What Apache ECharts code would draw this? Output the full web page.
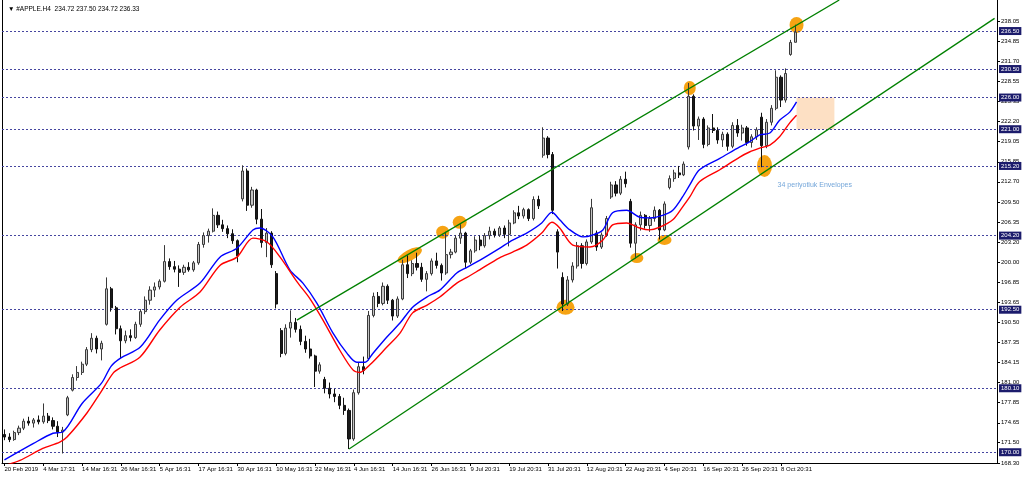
<!DOCTYPE html>
<html><head><meta charset="utf-8">
<script src="https://cdn.jsdelivr.net/npm/echarts@6/dist/echarts.min.js"></script>
<style>html,body{margin:0;padding:0;background:#fff}#c{width:1024px;height:477px}</style>
</head><body><div id="c"></div>
<script>
// ---- data ----
const tickLabels = ['20 Feb 2019','4 Mar 17:31','14 Mar 16:31','26 Mar 16:31','5 Apr 16:31','17 Apr 16:31','30 Apr 16:31','10 May 16:31','22 May 16:31','4 Jun 16:31','14 Jun 16:31','26 Jun 16:31','9 Jul 20:31','19 Jul 20:31','31 Jul 20:31','12 Aug 20:31','22 Aug 20:31','4 Sep 20:31','16 Sep 20:31','26 Sep 20:31','8 Oct 20:31'];
const barsPerLabel = 8;
const totalSlots = 205;
const opens = [
172.8,172.4,172.0,173.1,173.8,174.9,174.6,175.1,174.8,175.7,
175.0,174.1,173.2,175.9,179.8,181.8,182.6,183.9,186.2,188.0,
186.3,190.2,195.8,192.8,189.5,187.6,188.4,188.1,190.2,192.2,
194.0,195.6,196.1,197.0,200.1,199.3,198.9,198.4,199.2,198.8,
199.9,202.8,204.2,204.9,207.4,205.9,205.3,204.5,203.4,210.0,
214.4,209.0,211.4,206.8,203.1,204.6,198.2,189.2,185.6,189.6,
190.5,189.4,187.5,186.3,185.2,182.8,181.5,180.1,179.2,178.8,
177.4,176.6,172.1,179.4,183.5,184.8,191.6,194.6,193.5,196.2,
194.0,191.5,194.2,199.6,198.2,199.8,199.2,197.3,198.2,200.2,
199.5,198.3,201.2,201.6,203.8,204.6,200.0,201.8,203.5,202.6,
204.2,204.9,204.3,205.4,204.4,206.2,207.8,207.3,208.3,206.9,
209.9,216.9,219.6,217.0,204.8,197.6,193.4,197.2,199.4,202.6,
199.8,203.2,204.6,202.4,204.3,210.3,212.2,210.9,213.1,209.6,
203.0,205.9,207.4,205.8,206.9,208.2,205.1,211.8,213.2,214.1,
213.8,218.2,226.2,221.5,222.6,218.6,221.2,220.8,219.3,220.2,
218.3,221.6,220.4,221.2,218.9,219.8,222.9,218.4,222.1,224.3,
229.2,225.6,232.8,234.72];
const highs = [
173.6,173.0,173.4,174.2,175.3,175.6,175.4,175.8,177.7,176.2,
175.5,174.9,174.0,178.9,182.3,183.6,184.3,186.6,188.8,188.4,
187.6,197.6,196.1,193.1,190.0,189.2,189.4,190.6,192.6,194.6,
196.2,196.8,197.3,202.7,200.6,200.2,199.5,199.6,200.0,200.2,
203.2,204.7,205.3,208.5,208.0,206.7,205.8,205.2,203.6,215.3,
214.8,211.9,211.6,208.4,205.4,204.9,198.6,189.6,190.2,192.4,
191.2,190.0,188.4,187.9,185.4,184.2,181.9,181.0,180.0,179.2,
178.6,176.9,179.9,184.2,185.1,192.3,195.2,195.3,196.8,196.5,
194.2,194.6,200.4,201.1,200.3,201.5,199.9,198.6,200.6,201.5,
199.8,204.8,202.1,204.3,206.0,204.8,202.1,204.1,204.2,204.6,
205.6,205.3,205.7,205.8,206.7,208.2,208.9,208.6,208.5,210.4,
210.5,221.3,219.9,217.4,205.2,198.4,197.8,200.0,203.2,203.0,
203.6,210.0,205.0,204.7,207.3,212.7,212.8,213.6,214.3,210.0,
206.3,208.0,207.6,207.3,208.8,208.4,209.6,213.7,214.6,215.2,
215.9,228.3,226.5,223.0,222.9,221.6,223.4,221.3,220.6,220.5,
222.1,222.6,221.7,221.5,220.2,221.3,223.6,222.6,224.8,230.3,
229.5,230.6,235.1,237.50];
const lows = [
171.9,171.6,171.8,172.7,173.5,174.2,173.9,174.4,174.5,174.6,
173.6,172.4,169.8,175.7,179.6,181.3,182.2,183.6,185.8,185.6,
184.5,190.0,192.2,188.6,184.8,187.2,187.5,187.9,189.8,191.8,
193.3,194.5,195.7,196.8,198.8,198.4,196.1,198.0,198.5,198.5,
199.6,202.3,203.1,204.7,205.4,204.8,203.8,202.9,200.0,209.6,
208.1,208.6,206.0,202.3,200.8,199.1,192.7,185.0,185.3,188.1,
188.9,186.9,185.7,184.8,180.3,182.4,179.3,178.5,177.9,176.8,
175.9,170.5,171.8,179.1,182.3,184.5,191.3,192.9,193.2,193.4,
190.8,191.2,194.0,197.5,197.8,198.7,196.9,195.4,197.9,199.0,
197.1,198.0,200.6,201.4,202.9,199.1,199.7,201.5,201.9,202.3,
203.6,203.9,204.0,203.8,202.5,206.0,206.8,206.9,206.5,206.6,
208.4,216.5,216.4,207.6,199.0,192.3,193.1,196.8,199.0,199.0,
199.5,202.9,201.8,202.1,204.0,210.0,210.4,210.6,211.8,202.3,
200.6,205.0,205.3,204.8,206.4,203.6,204.9,211.5,212.7,213.3,
213.6,217.8,220.8,219.3,218.0,218.3,220.4,218.7,218.2,217.6,
218.0,219.8,219.2,218.4,218.1,219.3,215.0,218.0,221.6,224.0,
224.5,225.2,232.6,234.72];
const closes = [
172.4,172.0,173.1,173.8,174.9,174.6,175.1,174.8,175.7,175.0,
174.1,173.2,173.5,178.6,181.8,182.6,183.9,186.2,188.0,186.3,
187.2,195.8,192.8,189.5,187.6,188.4,188.1,190.2,192.2,194.0,
195.6,196.1,197.0,200.1,199.3,198.9,198.4,199.2,198.8,199.9,
202.8,204.2,204.9,207.4,205.9,205.3,204.5,203.4,201.0,214.4,
209.0,211.4,206.8,203.1,204.6,199.6,193.4,185.6,189.6,190.5,
189.4,187.5,186.3,185.2,182.8,183.8,180.1,179.2,178.8,177.4,
176.6,172.1,179.4,183.5,182.9,191.6,194.6,193.5,196.2,194.0,
191.5,194.2,199.6,198.2,199.8,199.2,197.3,198.2,200.2,199.5,
198.3,201.2,201.6,203.8,204.6,200.0,201.8,203.5,202.6,204.2,
204.9,204.3,205.4,204.4,206.2,207.8,207.3,208.3,206.9,209.9,
208.9,219.6,217.0,208.2,201.6,193.4,197.2,199.4,202.6,199.8,
203.2,208.6,202.4,204.3,206.9,212.2,210.9,213.1,212.4,203.0,
205.9,207.4,205.8,206.9,208.2,205.1,209.2,213.2,214.1,213.8,
215.5,226.2,221.5,222.6,218.6,221.2,220.8,219.3,220.2,218.3,
221.6,220.4,221.2,218.9,219.8,220.9,218.4,222.1,224.3,229.2,
225.6,229.8,234.7,236.33];
const priceTicks = [168.30,171.50,174.65,177.85,181.00,184.15,187.35,190.50,193.65,196.85,200.00,203.20,206.35,209.50,212.70,215.85,219.05,222.20,225.35,228.55,231.70,234.85,238.05];
const levelLines = [236.50,230.50,226.00,221.00,215.20,204.20,192.50,180.10,170.00];
const envUpper = [[0,168.8],[6,171.4],[10,173.0],[12,173.2],[16,177.7],[20,180.9],[22,183.6],[24,184.9],[28,186.6],[32,190.9],[35.5,194.0],[40.3,196.7],[44.4,200.8],[47.9,202.2],[51.2,205.1],[52.6,205.4],[55.3,204.0],[58.8,198.8],[61.5,196.7],[64.4,193.5],[67.7,188.8],[70.6,185.6],[72.6,184.2],[74.3,184.2],[75.9,185.6],[78.8,188.2],[81.5,190.4],[84.1,192.9],[87,194.5],[89.7,195.6],[93.2,198.3],[95.3,199.2],[97.9,200.3],[102,202.2],[104.7,203.5],[107.6,204.6],[110.7,206.2],[112.8,207.9],[114.4,206.7],[116.5,205.1],[119.2,204.0],[121.2,204.3],[123.3,205.1],[125.3,207.8],[128.2,208.2],[130.9,207.1],[132.9,207.0],[135.6,207.4],[137.7,208.2],[139.7,210.3],[141.2,212.2],[143.2,214.6],[147.4,216.4],[151.5,218.2],[153.5,219.0],[155.6,220.1],[157.7,220.4],[159.7,222.4],[161.8,223.7],[163.2,225.3]];
const envLower = [[0,167.9],[3.2,168.7],[7.9,170.6],[11.4,171.6],[12.9,172.4],[17,176.2],[19.7,179.3],[22.4,182.5],[23.8,183.3],[27.9,185.0],[32,189.3],[36.2,192.9],[40.3,195.3],[44.4,199.5],[47.9,200.8],[51.2,203.8],[54.1,203.2],[56.8,200.8],[60.3,196.9],[62.9,194.3],[65.6,190.9],[69.1,186.1],[71.8,183.0],[73.2,182.6],[75.3,183.8],[78.8,186.6],[81.5,188.8],[84.1,192.0],[87,193.2],[89.7,194.5],[93.2,196.7],[95.3,197.6],[97.9,198.8],[102,200.7],[104.7,201.6],[107.6,202.7],[110.7,204.6],[112.8,206.3],[114.4,205.4],[117.1,202.7],[120.6,202.4],[123.3,203.5],[125.3,205.9],[128.2,206.2],[130.9,205.4],[132.9,205.1],[134.9,205.5],[137.7,206.7],[139.7,208.7],[141.2,210.3],[143.2,212.7],[147.4,214.6],[151.5,216.6],[153.5,217.4],[155.6,218.0],[157.7,218.5],[159.7,219.8],[161.8,222.0],[163.2,223.2]];
const channelUpper = [[60.25,190.85],[172,241.4]];
const channelLower = [[71,170.5],[204,238.5]];
const highlightPoints = [[83.5,201.1],[90.3,204.75],[93.8,206.3],[115.6,192.9],[130.3,200.65],[136.0,203.5],[141.2,227.5],[156.6,215.2],[163.2,237.45]];
const zoneFrom = [163.2, 226.0];
const zoneTo = [171.0, 221.0];
const noteText = '34 periyotluk Envelopes';
const notePoint = [159.3, 212.2];
const headerText = '▼ #APPLE.H4  234.72 237.50 234.72 236.33';

// ---- styles (not data) ----
const ellipseShapes = [[27,11,28],[13,13,0],[14,13,0],[18,15,0],[13,10,0],[14,10,0],[12,14,0],[15,22,0],[14,16,0]];
const FONT = 'Liberation Sans, DejaVu Sans, sans-serif';

const categories = Array.from({length: totalSlots}, (_, i) =>
  (i % barsPerLabel === 0 && i / barsPerLabel < tickLabels.length) ? tickLabels[i / barsPerLabel] : '');
const labelIdx = (i) => i % barsPerLabel === 0 && i / barsPerLabel < tickLabels.length;
const candles = opens.map((o, i) => [o, closes[i], lows[i], highs[i]]);
const yMin = 168.30, yMax = 241.40;

const chart = echarts.init(document.getElementById('c'), null, {renderer: 'canvas'});
chart.setOption({
  animation: false,
  backgroundColor: '#ffffff',
  title: {text: headerText, left: 3, top: 1, textStyle: {fontSize: 6.5, fontWeight: 'normal', color: '#000', fontFamily: FONT}},
  grid: {left: 2, right: 27, top: 0, bottom: 14, containLabel: false},
  xAxis: [
    {type: 'category', data: categories, boundaryGap: true,
     axisLine: {show: true, onZero: false, lineStyle: {color: '#000', width: 1}},
     axisTick: {show: true, interval: labelIdx, alignWithLabel: true, length: 3, lineStyle: {color: '#000'}},
     axisLabel: {show: true, interval: labelIdx, align: 'left', margin: 3, fontSize: 6, color: '#000', fontFamily: FONT},
     splitLine: {show: false}},
    {type: 'value', min: -0.5, max: totalSlots - 0.5, show: false,
     axisLine: {show: false, onZero: false}, axisTick: {show: false}, axisLabel: {show: false}, splitLine: {show: false}}
  ],
  yAxis: [
    {type: 'value', position: 'right', min: yMin, max: yMax, scale: true,
     axisLine: {show: true, onZero: false, lineStyle: {color: '#000', width: 1}},
     axisTick: {show: true, length: 3, customValues: priceTicks, lineStyle: {color: '#000'}},
     axisLabel: {show: true, customValues: priceTicks, margin: 4, fontSize: 6, color: '#000', fontFamily: FONT,
                 formatter: v => v.toFixed(2)},
     splitLine: {show: false}},
    {type: 'value', position: 'left', min: yMin, max: yMax,
     axisLine: {show: true, onZero: false, lineStyle: {color: '#000', width: 1}},
     axisTick: {show: false}, minorTick: {show: false}, axisLabel: {show: false}, splitLine: {show: false}}
  ],
  series: [
    {type: 'scatter', xAxisIndex: 1, yAxisIndex: 0, z: 1, silent: true,
     data: highlightPoints.map((p, k) => ({value: p, symbolSize: [ellipseShapes[k][0], ellipseShapes[k][1]], symbolRotate: ellipseShapes[k][2]})),
     symbol: 'circle', itemStyle: {color: '#f6a313', opacity: 1},
     markArea: {silent: true, itemStyle: {color: '#fde0c4'},
       data: [[{coord: zoneFrom}, {coord: zoneTo}]]}},
    {type: 'candlestick', xAxisIndex: 0, yAxisIndex: 0, z: 3, barWidth: 2.6,
     data: candles,
     itemStyle: {color: '#c4c4c4', color0: '#1a1a1a', borderColor: '#3a3a3a', borderColor0: '#111111', borderWidth: 1},
     markLine: {silent: true, symbol: ['none', 'none'], z: 2,
       lineStyle: {color: '#4646a0', type: [2, 2], width: 1},
       label: {show: true, position: 'end', distance: 2, formatter: p => p.value.toFixed(2),
               backgroundColor: '#1c1c6c', color: '#ffffff', fontSize: 6, fontFamily: FONT, padding: [1, 2, 1, 2]},
       data: levelLines.map(v => ({yAxis: v}))}},
    {type: 'line', xAxisIndex: 1, yAxisIndex: 0, z: 4, data: envUpper, smooth: 0.3, symbol: 'none',
     lineStyle: {color: '#0000ff', width: 1.4}},
    {type: 'line', xAxisIndex: 1, yAxisIndex: 0, z: 4, data: envLower, smooth: 0.3, symbol: 'none',
     lineStyle: {color: '#ff0000', width: 1.4}},
    {type: 'line', xAxisIndex: 1, yAxisIndex: 0, z: 5, data: channelUpper, symbol: 'none',
     lineStyle: {color: '#008000', width: 1.3}},
    {type: 'line', xAxisIndex: 1, yAxisIndex: 0, z: 5, data: channelLower, symbol: 'none',
     lineStyle: {color: '#008000', width: 1.3}},
    {type: 'scatter', xAxisIndex: 1, yAxisIndex: 0, z: 6, silent: true, symbolSize: 0,
     data: [notePoint],
     label: {show: true, position: [0, 0], align: 'left', verticalAlign: 'middle', formatter: noteText,
             fontSize: 7, color: '#4f8fcf', fontFamily: FONT}}
  ]
});
</script>
</body></html>
